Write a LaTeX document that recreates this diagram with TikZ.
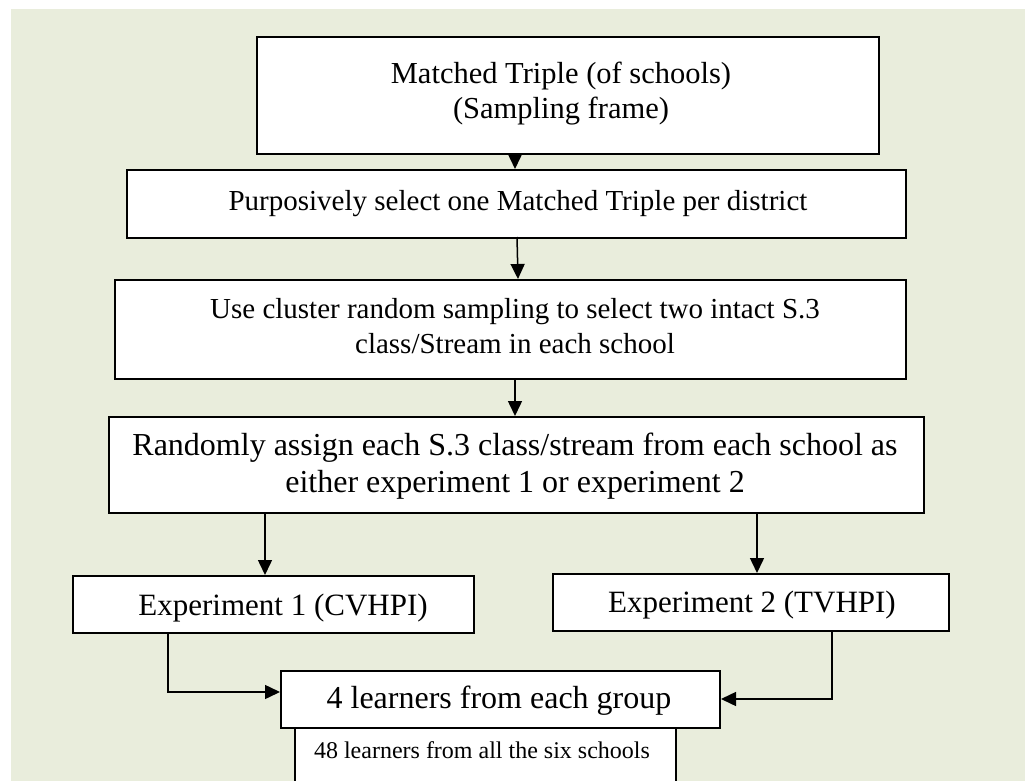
\documentclass[tikz,border=0pt]{standalone}
\usepackage{fontspec}
\setmainfont{Liberation Serif}
\usetikzlibrary{arrows.meta}
\definecolor{bg}{HTML}{E9EDDC}
\begin{document}
\begin{tikzpicture}[x=1pt,y=-1pt,
  box/.style={draw=black, line width=2pt, fill=white, inner sep=0pt, anchor=north west},
  txt/.style={font=\fontsize{29}{35}\selectfont, inner sep=0pt, anchor=base},
  big/.style={font=\fontsize{31}{37}\selectfont, inner sep=0pt, anchor=base},
  small/.style={font=\fontsize{24}{29}\selectfont, inner sep=0pt, anchor=base},
  arr/.style={line width=1.5pt, -{Triangle[width=14pt,length=15pt]}}]
\useasboundingbox (0,0) rectangle (1025,781);
\fill[white] (0,0) rectangle (1025,781);
\fill[bg] (11,9) rectangle (1025,781);
% boxes
\node[box, minimum width=622pt, minimum height=117pt] (b1) at (256,36) {};
\node[box, minimum width=779pt, minimum height=68pt] (b2) at (126,169) {};
\node[box, minimum width=791pt, minimum height=99pt] (b3) at (114,279) {};
\node[box, minimum width=815pt, minimum height=96pt] (b4) at (108,416) {};
\node[box, minimum width=401pt, minimum height=57pt] (b5) at (72,575) {};
\node[box, minimum width=396pt, minimum height=57pt] (b6) at (552,573) {};
\node[box, minimum width=381pt, minimum height=70pt] (b8) at (294,727) {};
\node[box, minimum width=439pt, minimum height=57pt] (b7) at (280,670) {};
% texts
\node[txt, font=\fontsize{30.5}{36}\selectfont] (t1a) at (561,84) {Matched Triple (of schools)};
\node[txt, font=\fontsize{30.5}{36}\selectfont] (t1b) at (561,119) {(Sampling frame)};
\node[txt] (t2) at (518,210) {Purposively select one Matched Triple per district};
\node[txt] (t3a) at (515,318) {Use cluster random sampling to select two intact S.3};
\node[txt] (t3b) at (515,353) {class/Stream in each school};
\node[txt, font=\fontsize{32}{38}\selectfont] (t4a) at (515,455) {Randomly assign each S.3 class/stream from each school as};
\node[txt, font=\fontsize{32}{38}\selectfont] (t4b) at (515,492) {either experiment 1 or experiment 2};
\node[big] (t5) at (283,615) {Experiment 1 (CVHPI)};
\node[big] (t6) at (752,612) {Experiment 2 (TVHPI)};
\node[txt, font=\fontsize{32}{38}\selectfont] (t7) at (499,708) {4 learners from each group};
\node[small] (t8) at (482,758) {48 learners from all the six schools};
% connectors
\coordinate (c1) at (515,153);
\coordinate (c2) at (517,237);
\coordinate (c2e) at (518,279);
\coordinate (c3) at (515,378);
\draw[arr] (b1.south -| c1) -- (b2.north -| c1);
\draw[arr] (c2) -- (c2e);
\draw[arr] (b3.south -| c3) -- (b4.north -| c3);
\coordinate (c4) at (265,512);
\coordinate (c5) at (757,512);
\draw[arr] (b4.south -| c4) -- (b5.north -| c4);
\draw[arr] (b4.south -| c5) -- (b6.north -| c5);
\coordinate (c6) at (168,692);
\coordinate (c7) at (832,699);
\draw[arr] (b5.south -| c6) -- (c6) -- (b7.west |- c6);
\draw[arr] (b6.south -| c7) -- (c7) -- (b7.east |- c7);
\end{tikzpicture}
\end{document}
